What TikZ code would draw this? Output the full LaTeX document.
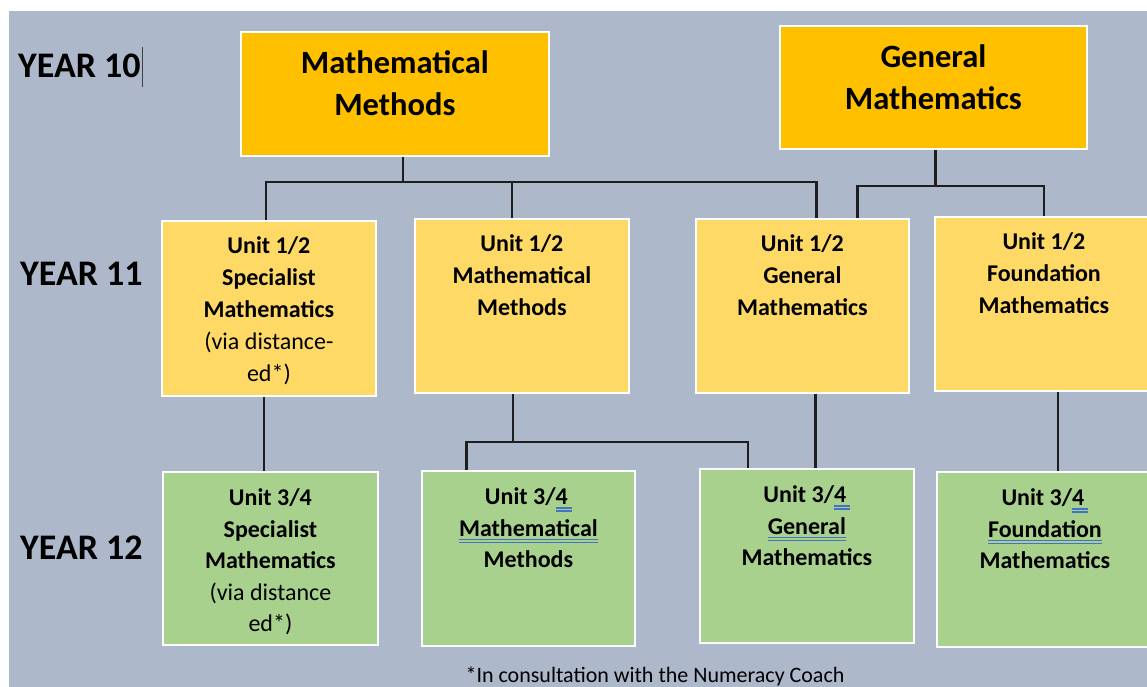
\documentclass[tikz,border=0pt]{standalone}
\usepackage{fontspec}
\setmainfont{Carlito}
\usetikzlibrary{calc}
\definecolor{bgc}{HTML}{ADB9CA}
\definecolor{orng}{HTML}{FFC000}
\definecolor{yelw}{HTML}{FFD966}
\definecolor{grn}{HTML}{A9D18E}
\definecolor{ulb}{HTML}{4472C4}
\definecolor{linec}{HTML}{1E1E1E}
\newcommand\bdu[1]{\setbox0=\hbox{#1}\leavevmode\rlap{\textcolor{ulb}{\rule[-4pt]{\wd0}{1.3pt}}}\rlap{\textcolor{ulb}{\rule[-7pt]{\wd0}{1.3pt}}}\box0}
\tikzset{
  boxbase/.style={draw=white, line width=1.8pt, inner sep=0pt, anchor=north west},
  topbox/.style={boxbase, fill=orng},
  midbox/.style={boxbase, fill=yelw},
  lowbox/.style={boxbase, fill=grn},
  yearlbl/.style={anchor=west, inner sep=0pt, font=\fontsize{36}{40}\selectfont\bfseries},
  conn/.style={draw=linec, line width=2.3pt},
}
\newcommand\topt[3]{\parbox[t][#1pt][t]{#2pt}{\centering\fontsize{32.5}{42}\selectfont\bfseries\vspace*{19pt}#3\par}}
\newcommand\midt[3]{\parbox[t][#1pt][t]{#2pt}{\centering\fontsize{24}{32}\selectfont\bfseries\vspace*{16pt}#3\par}}
\newcommand\lowt[3]{\parbox[t][#1pt][t]{#2pt}{\centering\fontsize{24}{31.5}\selectfont\bfseries\vspace*{17pt}#3\par}}
\begin{document}
\begin{tikzpicture}[x=1pt,y=-1pt]
\useasboundingbox (0,0) rectangle (1147,687);
\fill[white] (0,0) rectangle (1147,687);
\fill[bgc] (9,11) rectangle (1147,687);

% year labels
\node[yearlbl] (y10) at (18,67) {YEAR 10\hspace{1pt}\textcolor{darkgray}{\rule[-9pt]{1.2pt}{40pt}}};
\node[yearlbl] (y11) at (20,274) {YEAR 11};
\node[yearlbl] (y12) at (20,548) {YEAR 12};

% year 10
\node[topbox] (m10) at (240,31) {\topt{124}{308}{Mathematical\\Methods}};
\node[topbox] (g10) at (779,25) {\topt{123}{307}{General\\Mathematics}};

% year 11
\node[midbox] (s11) at (161,220) {\midt{175}{214}{Unit 1/2\\Specialist\\Mathematics\\{\mdseries (via distance-\\ed*)}}};
\node[midbox] (m11) at (414,218) {\midt{174}{214}{Unit 1/2\\Mathematical\\Methods}};
\node[midbox] (g11) at (695,218) {\midt{174}{213}{Unit 1/2\\General\\Mathematics}};
\node[midbox] (f11) at (934,216) {\midt{174}{218}{Unit 1/2\\Foundation\\Mathematics}};

% year 12
\node[lowbox] (s12) at (162,471) {\lowt{173}{215}{Unit 3/4\\Specialist\\Mathematics\\{\mdseries (via distance\\ed*)}}};
\node[lowbox] (m12) at (421,470) {\lowt{175}{213}{Unit 3/\bdu{4\hspace{4pt}}\\\bdu{Mathematical}\\Methods}};
\node[lowbox] (g12) at (699,468) {\lowt{174}{214}{Unit 3/\bdu{4\hspace{4pt}}\\\bdu{General}\\Mathematics}};
\node[lowbox] (f12) at (936,471) {\lowt{175}{216}{Unit 3/\bdu{4\hspace{4pt}}\\\bdu{Foundation}\\Mathematics}};

% footnote
\node[anchor=south, inner sep=0pt, font=\fontsize{22}{26}\selectfont] (fn) at (655,686) {*In consultation with the Numeracy Coach};

% connectors: year 10 -> year 11
\coordinate (t1) at ($(m10.south)+(8,0)$);
\coordinate (bus1) at ($(t1)+(0,25)$);
\coordinate (d1) at ($(s11.north)+(-3,0)$);
\coordinate (d2) at ($(m11.north)+(-10,0)$);
\coordinate (d3) at ($(g11.north)+(14,0)$);
\draw[conn] (t1) -- (bus1);
\draw[conn] (d1) -- (d1 |- bus1) -- (d3 |- bus1) -- (d3);
\draw[conn] (d2) -- (d2 |- bus1);

\coordinate (t2) at ($(g10.south)+(2,0)$);
\coordinate (bus2) at ($(t2)+(0,36)$);
\coordinate (e1) at ($(g11.north)+(55,0)$);
\coordinate (e2) at ($(f11.north)+(0,0)$);
\draw[conn] (t2) -- (bus2);
\draw[conn] (e1) -- (e1 |- bus2) -- (e2 |- bus2) -- (e2);

% year 11 -> year 12
\coordinate (u1) at ($(s11.south)+(-5,0)$);
\draw[conn] (u1) -- (u1 |- s12.north);
\coordinate (u2) at ($(m11.south)+(-9,0)$);
\coordinate (bus3) at ($(u2)+(0,48)$);
\coordinate (v1) at ($(m12.north)+(-62,0)$);
\coordinate (v2) at ($(g12.north)+(-59,0)$);
\draw[conn] (u2) -- (bus3);
\draw[conn] (v1) -- (v1 |- bus3) -- (v2 |- bus3) -- (v2);
\coordinate (u3) at ($(g11.south)+(13,0)$);
\draw[conn] (u3) -- (u3 |- g12.north);
\coordinate (u4) at ($(f11.south)+(14,0)$);
\draw[conn] (u4) -- (u4 |- f12.north);
\end{tikzpicture}
\end{document}
